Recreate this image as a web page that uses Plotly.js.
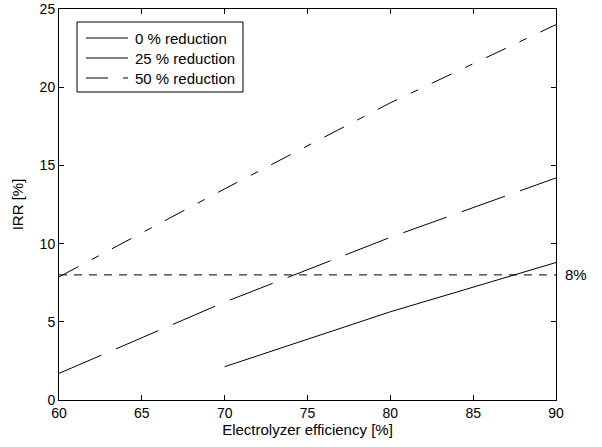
<!DOCTYPE html>
<html>
<head>
<meta charset="utf-8">
<script src="https://cdn.plot.ly/plotly-3.0.1.min.js"></script>
<style>html,body{margin:0;padding:0;background:#fff;}#chart{width:602px;height:447px;}</style>
</head>
<body>
<div id="chart"></div>
<script>
// Data
var effAll = [60, 70, 80, 90];
var eff0 = [70, 80, 90];
var irr0 = [2.13, 5.64, 8.79];
var irr25 = [1.7, 6.26, 10.4, 14.2];
var irr50 = [7.87, 13.5, 19.0, 24.0];
var thresholdX = [60, 90];
var thresholdY = [8, 8];
var seriesNames = ['0 % reduction', '25 % reduction', '50 % reduction'];
var xTicks = [60, 65, 70, 75, 80, 85, 90];
var yTicks = [0, 5, 10, 15, 20, 25];

var FAM = 'Liberation Sans, Arial, sans-serif';
var TEXTFONT = {family: FAM, size: 15, color: '#000'};
var TICKFONT = {family: FAM, size: 14, color: '#000'};
var dashes = ['solid', '46px,16px', '22px,15px,8px,15px'];

var traces = [
  {x: eff0, y: irr0, name: seriesNames[0], mode: 'lines', line: {color: '#000', width: 1, dash: dashes[0]}},
  {x: effAll, y: irr25, name: seriesNames[1], mode: 'lines', line: {color: '#000', width: 1, dash: dashes[1]}},
  {x: effAll, y: irr50, name: seriesNames[2], mode: 'lines', line: {color: '#000', width: 1, dash: dashes[2]}},
  {x: thresholdX, y: thresholdY, mode: 'lines', showlegend: false, line: {color: '#000', width: 1, dash: '8px,7px'}}
];

var axisCommon = {
  showline: true, linecolor: '#000', linewidth: 1, mirror: 'ticks',
  ticks: 'inside', ticklen: 5, tickcolor: '#000', tickwidth: 1,
  showgrid: false, zeroline: false, tickfont: TICKFONT
};

// Legend drawn in the MATLAB style (box, 42px line samples, labels)
var W = 497, H = 391, L = 59, B = 400;
function px(x) { return (x - L) / W; }
function py(y) { return (B - y) / H; }
var shapes = [{
  type: 'rect', xref: 'paper', yref: 'paper',
  x0: px(77), x1: px(243), y0: py(92), y1: py(22),
  line: {color: '#000', width: 1}, fillcolor: '#fff', layer: 'above'
}];
var annotations = [];
var rowY = [38, 58, 78];
for (var i = 0; i < seriesNames.length; i++) {
  shapes.push({
    type: 'line', xref: 'paper', yref: 'paper',
    x0: px(86), x1: px(128), y0: py(rowY[i]), y1: py(rowY[i]),
    line: {color: '#000', width: 1, dash: dashes[i]}, layer: 'above'
  });
  annotations.push({
    xref: 'paper', yref: 'paper', x: px(133), y: py(rowY[i]),
    xanchor: 'left', yanchor: 'middle', text: seriesNames[i],
    showarrow: false, font: TEXTFONT
  });
}
annotations.push({
  xref: 'paper', yref: 'y', x: 1, y: thresholdY[0], xanchor: 'left', yanchor: 'middle',
  xshift: 7, text: '8%', showarrow: false, font: TEXTFONT
});

var layout = {
  width: 602, height: 447,
  margin: {l: 59, r: 46, t: 9, b: 47},
  paper_bgcolor: '#fff', plot_bgcolor: '#fff',
  font: TEXTFONT,
  showlegend: false,
  xaxis: Object.assign({}, axisCommon, {
    range: [60, 90], tickvals: xTicks, ticktext: xTicks.map(String),
    title: {text: 'Electrolyzer efficiency [%]', font: TEXTFONT, standoff: 4}
  }),
  yaxis: Object.assign({}, axisCommon, {
    range: [0, 25], tickvals: yTicks, ticktext: yTicks.map(String),
    title: {text: 'IRR [%]', font: TEXTFONT, standoff: 12}
  }),
  shapes: shapes,
  annotations: annotations
};

Plotly.newPlot('chart', traces, layout, {staticPlot: true, displayModeBar: false});
</script>
</body>
</html>
